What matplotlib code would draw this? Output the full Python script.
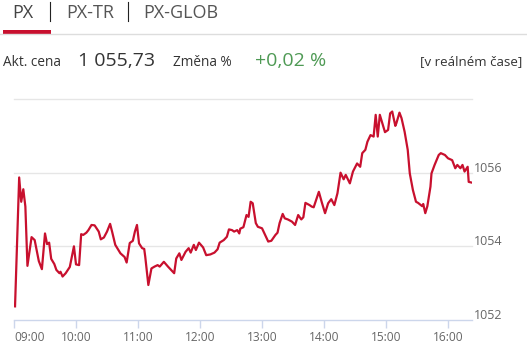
import numpy as np
import matplotlib.pyplot as plt
from matplotlib.lines import Line2D
from matplotlib.patches import Rectangle

plt.rcParams['font.family'] = ['Open Sans', 'DejaVu Sans']

# minutes after 09:00 and PX index value
minutes = [
    1, 5, 7, 9, 11, 13, 17, 20, 24, 27,
    30, 32, 34, 36, 39, 41, 44, 45, 47, 50,
    54, 58, 60, 63, 65, 67, 70, 72, 75, 78,
    82, 84, 87, 90, 93, 95, 98, 103, 107, 109,
    112, 115, 117, 119, 121, 124, 126, 127, 130, 133,
    136, 139, 141, 145, 149, 155, 157, 160, 162, 166,
    169, 171, 174, 176, 179, 183, 186, 190, 194, 197,
    199, 203, 206, 208, 211, 213, 216, 218, 219, 222,
    225, 227, 229, 231, 234, 236, 240, 243, 246, 249,
    253, 255, 257, 260, 262, 265, 269, 272, 275, 278,
    280, 282, 286, 288, 290, 295, 298, 301, 304, 307,
    310, 313, 316, 319, 321, 325, 328, 332, 335, 337,
    340, 342, 345, 348, 350, 352, 354, 357, 359, 362,
    364, 366, 369, 370, 373, 375, 378, 381, 383, 386,
    389, 391, 395, 396, 398, 400, 403, 404, 407, 411,
    413, 417, 420, 424, 427, 429, 432, 434, 436, 439,
    440, 443]

values = [
    1052.37, 1055.87, 1055.21, 1055.55, 1055.08, 1053.47, 1054.25, 1054.17, 1053.60, 1053.38,
    1054.35, 1054.06, 1054.10, 1053.66, 1053.52, 1053.36, 1053.27, 1053.31, 1053.18, 1053.27,
    1053.44, 1054.00, 1053.51, 1053.49, 1054.33, 1054.31, 1054.37, 1054.44, 1054.58, 1054.57,
    1054.40, 1054.19, 1054.24, 1054.40, 1054.61, 1054.39, 1054.04, 1053.81, 1053.71, 1053.56,
    1054.09, 1054.15, 1054.40, 1054.58, 1054.08, 1053.95, 1053.93, 1053.72, 1052.95, 1053.40,
    1053.45, 1053.49, 1053.45, 1053.58, 1053.45, 1053.27, 1053.67, 1053.81, 1053.63, 1053.85,
    1053.95, 1053.83, 1054.04, 1053.90, 1054.10, 1053.97, 1053.76, 1053.78, 1053.83, 1053.92,
    1054.10, 1054.17, 1054.26, 1054.46, 1054.44, 1054.40, 1054.44, 1054.35, 1054.48, 1054.52,
    1054.85, 1054.80, 1055.21, 1055.17, 1054.63, 1054.53, 1054.49, 1054.31, 1054.13, 1054.15,
    1054.31, 1054.37, 1054.63, 1054.88, 1054.76, 1054.73, 1054.67, 1054.58, 1054.85, 1054.73,
    1054.79, 1055.18, 1055.12, 1055.08, 1055.06, 1055.48, 1055.18, 1054.90, 1055.17, 1055.28,
    1055.12, 1055.44, 1056.00, 1055.82, 1055.94, 1055.71, 1056.03, 1056.25, 1056.16, 1056.53,
    1056.62, 1056.84, 1057.02, 1056.98, 1057.57, 1056.98, 1057.57, 1057.29, 1057.10, 1057.16,
    1057.61, 1057.66, 1057.27, 1057.34, 1057.63, 1057.48, 1057.11, 1056.62, 1055.98, 1055.53,
    1055.21, 1055.18, 1055.09, 1055.15, 1054.90, 1055.09, 1055.62, 1055.98, 1056.21, 1056.48,
    1056.53, 1056.48, 1056.39, 1056.34, 1056.12, 1056.21, 1056.12, 1056.21, 1056.03, 1056.16,
    1055.75, 1055.73]

hour_labels = ['09:00', '10:00', '11:00', '12:00', '13:00', '14:00', '15:00', '16:00']
y_levels = [1052, 1054, 1056, 1058]
y_labels = ['1052', '1054', '1056', '']

tabs = ['PX', 'PX-TR', 'PX-GLOB']
price = '1 055,73'
change = '+0,02 %'

W, H = 527, 344
fig = plt.figure(figsize=(W / 100, H / 100), dpi=100)

def fx(px):
    return px / W

def fy(py):
    return 1 - py / H

ax = fig.add_axes([fx(14), fy(320), fx(472) - fx(14), fy(99) - fy(320)])

for v in y_levels[1:]:
    ax.axhline(v, color='#e6e6e6', lw=1, zorder=0, clip_on=False)

ax.plot(minutes, values, color='#c8102e', lw=1.6, solid_joinstyle='round')

ax.set_xlim(0, 443.2)
ax.set_ylim(1052, 1058)
for s in ['top', 'left', 'right']:
    ax.spines[s].set_visible(False)
ax.spines['bottom'].set_color('#ccd6eb')
ax.spines['bottom'].set_linewidth(1)

ax.set_xticks(np.arange(len(hour_labels)) * 60)
ax.set_xticklabels(hour_labels)
ax.tick_params(axis='x', length=5.8, width=1, color='#ccd6eb', labelsize=8.6,
               labelcolor='#666666', pad=2)
ax.get_xticklabels()[0].set_horizontalalignment('left')
ax.set_yticks([])

for v, lab in zip(y_levels, y_labels):
    ax.annotate(lab, xy=(1, v), xycoords=('axes fraction', 'data'),
                xytext=(2, 1), textcoords='offset pixels', ha='left',
                va='baseline', fontsize=9, color='#666666', annotation_clip=False)

# header tabs
fig.add_artist(Line2D([0, 1], [fy(34), fy(34)], color='#dddddd', lw=1))
fig.add_artist(Rectangle((fx(3), fy(33.5)), fx(48), 3 / H, color='#c8102e', lw=0))
for xb in [50, 128]:
    fig.add_artist(Line2D([fx(xb), fx(xb)], [fy(2), fy(21)], color='#222222', lw=0.8))

fig.text(fx(12), fy(18.5), tabs[0], fontsize=13, color='#444444', va='baseline')
fig.text(fx(66), fy(18.5), tabs[1], fontsize=13, color='#555555', va='baseline')
fig.text(fx(143), fy(18.5), tabs[2], fontsize=13, color='#555555', va='baseline')

fig.text(fx(3), fy(65.5), 'Akt. cena', fontsize=9.8, color='#333333', va='baseline')
fig.text(fx(78), fy(65.5), price, fontsize=14, color='#333333', va='baseline')
fig.text(fx(173), fy(65.5), 'Změna %', fontsize=9.8, color='#333333', va='baseline')
fig.text(fx(255), fy(65.5), change, fontsize=14, color='#4f9a55', va='baseline')
fig.text(fx(522), fy(65.5), '[v reálném čase]', fontsize=9.5, color='#333333',
         va='baseline', ha='right')

fig.savefig('out.png', dpi=100)
